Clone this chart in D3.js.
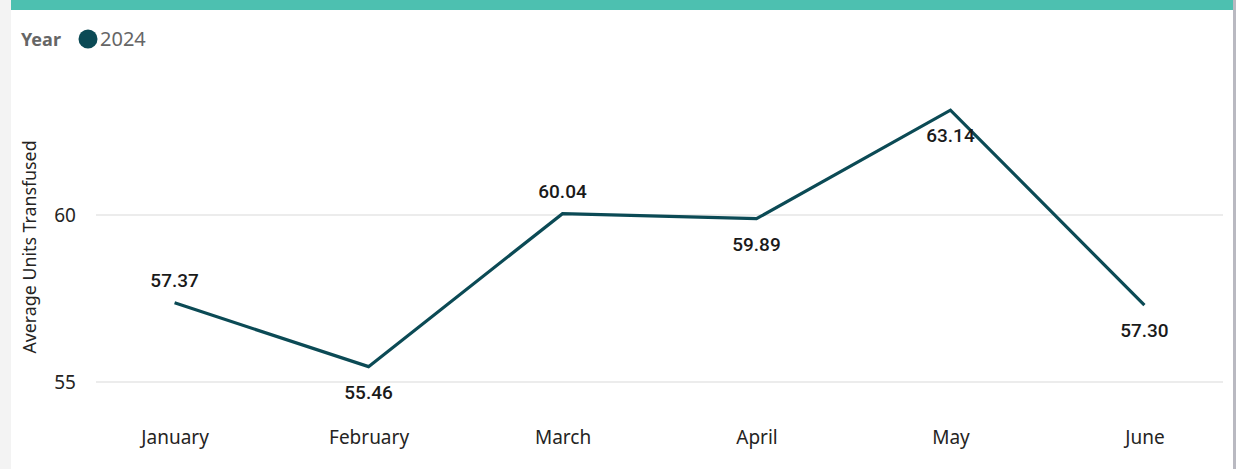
<!DOCTYPE html>
<html>
<head>
<meta charset="utf-8">
<script src="https://cdn.jsdelivr.net/npm/d3@7"></script>
<style>
  html, body { margin: 0; padding: 0; background: #f3f3f3; }
  svg { display: block; }
</style>
</head>
<body>
<svg id="chart" width="1236" height="469"></svg>
<script>
const months = ["January", "February", "March", "April", "May", "June"];
const values2024 = [57.37, 55.46, 60.04, 59.89, 63.14, 57.30];
const labelPlacement = ["above", "below", "above", "below", "below", "below"];
const yTicks = [55, 60];
const legendTitle = "Year";
const seriesName = "2024";
const yTitle = "Average Units Transfused";

const svg = d3.select("#chart");
const W = 1236, H = 469;
const lineColor = "#0B4A55";
const font = "'Noto Sans', 'Open Sans', sans-serif";

// card
svg.append("rect").attr("x", 11).attr("y", 0).attr("width", 1222).attr("height", H).attr("fill", "#ffffff");
svg.append("rect").attr("x", 1233).attr("y", 0).attr("width", 3).attr("height", H).attr("fill", "#b9b9c1");
svg.append("rect").attr("x", 11).attr("y", 0).attr("width", 1222).attr("height", 10).attr("fill", "#4DC0B0");

const x = d3.scalePoint().domain(months).range([97, 1222]).padding(0.4);
const y = d3.scaleLinear().domain([55, 60]).range([382, 215]);

// gridlines
svg.append("g").selectAll("line").data(yTicks).join("line")
  .attr("x1", 96).attr("x2", 1223)
  .attr("y1", d => y(d)).attr("y2", d => y(d))
  .attr("stroke", "#e6e6e6").attr("stroke-width", 1.5);

// y axis labels
const yAxis = d3.axisLeft(y).tickValues(yTicks).tickSize(0).tickPadding(0).tickFormat(d3.format("d"));
const gy = svg.append("g").attr("transform", "translate(76,0)").call(yAxis);
gy.select(".domain").remove();
gy.selectAll("text").attr("font-family", font).attr("font-size", 19).attr("fill", "#252423");

// x axis labels
const xAxis = d3.axisBottom(x).tickSize(0).tickPadding(0);
const gx = svg.append("g").attr("transform", "translate(0,430)").call(xAxis);
gx.select(".domain").remove();
gx.selectAll("text").attr("font-family", font).attr("font-size", 19).attr("fill", "#252423");

// y title
svg.append("text")
  .attr("transform", "translate(36,247) rotate(-90)")
  .attr("text-anchor", "middle")
  .attr("font-family", font).attr("font-size", 17.8).attr("fill", "#252423")
  .text(yTitle);

// line
const line = d3.line().x((d, i) => x(months[i])).y(d => y(d));
svg.append("path").datum(values2024)
  .attr("d", line).attr("fill", "none")
  .attr("stroke", lineColor).attr("stroke-width", 3.2)
  .attr("stroke-linejoin", "miter").attr("stroke-linecap", "butt");

// data labels
svg.append("g").selectAll("text").data(values2024).join("text")
  .attr("x", (d, i) => x(months[i]))
  .attr("y", (d, i) => labelPlacement[i] === "above" ? y(d) - 16 : y(d) + 32)
  .attr("text-anchor", "middle")
  .attr("font-family", "Roboto, sans-serif").attr("font-weight", 500)
  .attr("font-size", 19).attr("fill", "#1a1a1a")
  .text(d => d3.format(".2f")(d));

// legend
const lg = svg.append("g");
lg.append("text").attr("x", 21).attr("y", 46)
  .attr("font-family", font).attr("font-weight", 700).attr("font-size", 18).attr("fill", "#666666")
  .text(legendTitle);
lg.append("circle").attr("cx", 88).attr("cy", 39).attr("r", 9.5).attr("fill", lineColor);
lg.append("text").attr("x", 100).attr("y", 46)
  .attr("font-family", font).attr("font-size", 20).attr("fill", "#666666")
  .text(seriesName);
</script>
</body>
</html>
